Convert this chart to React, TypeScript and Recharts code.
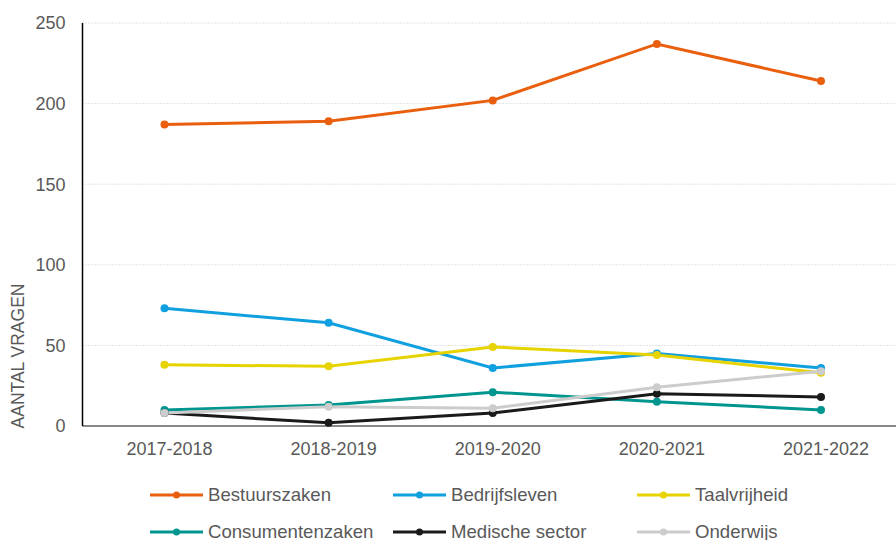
import React from "react";
import {
  LineChart,
  Line,
  XAxis,
  YAxis,
  CartesianGrid,
  Label,
} from "recharts";

const years = ["2017-2018", "2018-2019", "2019-2020", "2020-2021", "2021-2022"];

const bestuurszaken = [187, 189, 202, 237, 214];
const bedrijfsleven = [73, 64, 36, 45, 36];
const taalvrijheid = [38, 37, 49, 44, 33];
const consumentenzaken = [10, 13, 21, 15, 10];
const medischeSector = [8, 2, 8, 20, 18];
const onderwijs = [8, 12, 11, 24, 34];

const yTicks = [0, 50, 100, 150, 200, 250];

const series = [
  { key: "Bestuurszaken", values: bestuurszaken, color: "#ea5f0e" },
  { key: "Bedrijfsleven", values: bedrijfsleven, color: "#10a0e0" },
  { key: "Taalvrijheid", values: taalvrijheid, color: "#e6d300" },
  { key: "Consumentenzaken", values: consumentenzaken, color: "#00968f" },
  { key: "Medische sector", values: medischeSector, color: "#1a1a1a" },
  { key: "Onderwijs", values: onderwijs, color: "#cccccc" },
];

const data = years.map((year, i) => {
  const row: Record<string, string | number> = { year };
  series.forEach((s) => {
    row[s.key] = s.values[i];
  });
  return row;
});

const font = "'Liberation Sans', Arial, sans-serif";
const textColor = "#595959";

// legend drawn as plain html under the plot
const LegendBox = () => {
  const colX = [150, 393, 637];
  const rowY = [495, 532];
  return (
    <>
      {series.map((s, i) => {
        const left = colX[i % 3];
        const top = rowY[Math.floor(i / 3)];
        return (
          <div
            key={s.key}
            style={{
              position: "absolute",
              left,
              top: top - 12,
              height: 24,
              display: "flex",
              alignItems: "center",
              whiteSpace: "nowrap",
            }}
          >
            <svg width={53} height={10} style={{ display: "block" }}>
              <line x1={0} y1={5} x2={53} y2={5} stroke={s.color} strokeWidth={3} />
              <circle cx={26.5} cy={5} r={3.5} fill={s.color} />
            </svg>
            <span
              style={{
                marginLeft: 5,
                fontFamily: font,
                fontSize: 18.6,
                color: textColor,
              }}
            >
              {s.key}
            </span>
          </div>
        );
      })}
    </>
  );
};

export default function App() {
  return (
    <div
      style={{
        position: "absolute",
        left: 0,
        top: 0,
        width: 896,
        height: 540,
        overflow: "hidden",
        background: "#fff",
      }}
    >
      <LineChart
        width={896}
        height={470}
        data={data}
        margin={{ top: 23, right: 0, left: 0, bottom: 14 }}
      >
        <CartesianGrid
          vertical={false}
          stroke="#c8c8c8"
          strokeDasharray="1 2"
        />
        <XAxis
          dataKey="year"
          height={30}
          padding={{ left: 82, right: 75 }}
          axisLine={{ stroke: "#888888", strokeWidth: 2 }}
          tickLine={false}
          tickSize={0}
          tickMargin={16}
          tick={{ fill: textColor, fontSize: 18, fontFamily: font, dx: 5 }}
        />
        <YAxis
          width={82.5}
          domain={[0, 250]}
          ticks={yTicks}
          axisLine={{ stroke: "#000000", strokeWidth: 1.5 }}
          tickLine={false}
          tickSize={0}
          tickMargin={17}
          tick={{ fill: textColor, fontSize: 18, fontFamily: font }}
        >
          <Label
            content={() => (
              <text
                x={18}
                y={356}
                transform="rotate(-90 18 356)"
                textAnchor="middle"
                dominantBaseline="central"
                fill={textColor}
                fontSize={17.5}
                fontFamily={font}
              >
                AANTAL VRAGEN
              </text>
            )}
          />
        </YAxis>
        {series.map((s) => (
          <Line
            key={s.key}
            dataKey={s.key}
            stroke={s.color}
            strokeWidth={3}
            dot={{ r: 4, fill: s.color, stroke: s.color, strokeWidth: 0 }}
            activeDot={false}
            isAnimationActive={false}
          />
        ))}
      </LineChart>
      <LegendBox />
    </div>
  );
}
